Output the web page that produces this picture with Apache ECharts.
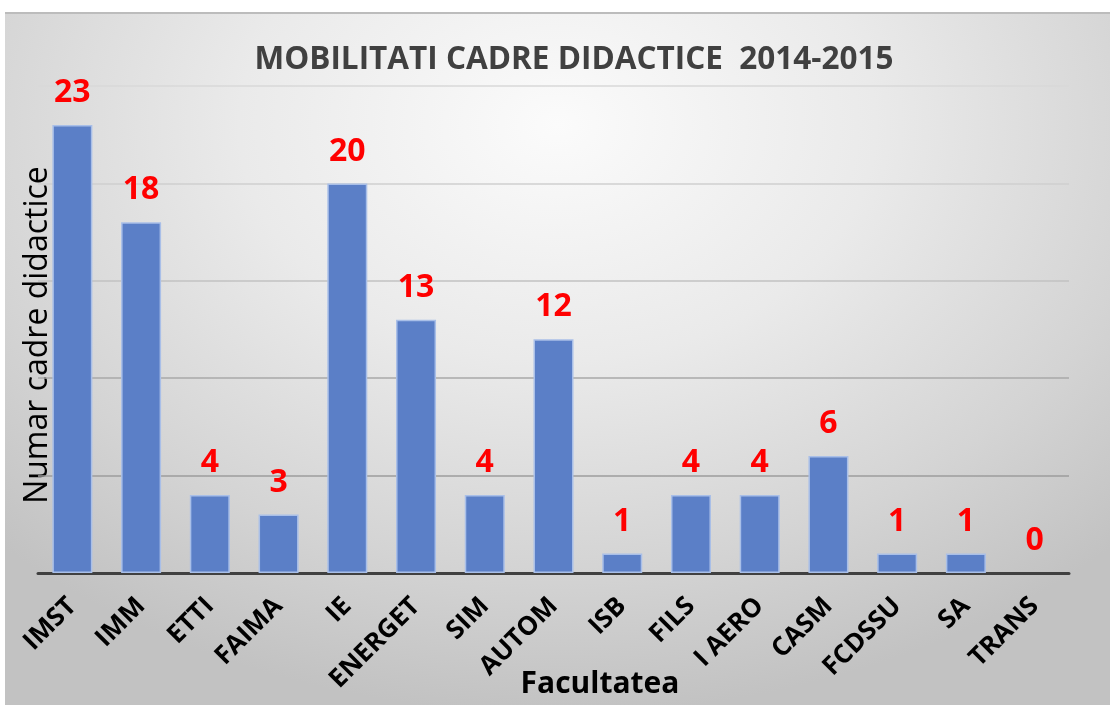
<!DOCTYPE html>
<html>
<head>
<meta charset="utf-8">
<script src="https://cdn.jsdelivr.net/npm/echarts@6/dist/echarts.min.js"></script>
<style>
  html, body { margin: 0; padding: 0; background: #ffffff; }
  #frame {
    position: absolute; left: 5px; top: 12px; width: 1105px; height: 693px;
    border-top: 2px solid #bcbcbc;
    background: radial-gradient(ellipse 72% 85% at 50% 16%, #fbfbfb 0%, #eaeaea 40%, #d4d4d4 75%, #c2c2c2 100%);
  }
  #chart { position: absolute; left: 0; top: 0; width: 1105px; height: 693px; }
</style>
</head>
<body>
<div id="frame"><div id="chart"></div></div>
<script>
// Faculties and number of teaching-staff mobilities, academic year 2014-2015
const faculties = ['IMST', 'IMM', 'ETTI', 'FAIMA', 'IE', 'ENERGET', 'SIM', 'AUTOM', 'ISB', 'FILS', 'I AERO', 'CASM', 'FCDSSU', 'SA', 'TRANS'];
const mobilities = [23, 18, 4, 3, 20, 13, 4, 12, 1, 4, 4, 6, 1, 1, 0];
const yTicks = [0, 5, 10, 15, 20, 25];

const titleText = 'MOBILITATI CADRE DIDACTICE  2014-2015';
const xAxisTitle = 'Facultatea';
const yAxisTitle = 'Numar cadre didactice';

const font = "'Open Sans', 'DejaVu Sans', sans-serif";
const chart = echarts.init(document.getElementById('chart'), null, { renderer: 'canvas' });

// zero-height bars get no outline so no sliver shows on the axis
const barData = mobilities.map(v => (v === 0 ? { value: v, itemStyle: { borderWidth: 0 } } : v));

chart.setOption({
  backgroundColor: 'transparent',
  animation: false,
  title: {
    text: titleText,
    left: 564,
    textAlign: 'center',
    top: 25,
    textStyle: { fontFamily: font, fontSize: 31.5, fontWeight: 'bold', color: '#404040' }
  },
  grid: { left: 33, right: 41, top: 72, bottom: 134 },
  xAxis: {
    type: 'category',
    data: faculties,
    axisLine: { show: true, lineStyle: { color: '#404040', width: 3 } },
    axisTick: { show: false },
    axisLabel: {
      interval: 0,
      rotate: 45,
      margin: 29,
      fontFamily: font,
      fontSize: 26,
      fontWeight: 'bold',
      color: '#000000'
    }
  },
  yAxis: {
    type: 'value',
    min: yTicks[0],
    max: yTicks[yTicks.length - 1],
    interval: yTicks[1] - yTicks[0],
    axisLine: { show: false },
    axisTick: { show: false },
    axisLabel: { show: false },
    splitLine: {
      show: true,
      lineStyle: { width: 1.5, color: ['#404040', '#9c9c9c', '#a9a9a9', '#c2c2c2', '#cfcfcf', '#d9d9d9'] }
    }
  },
  series: [{
    type: 'bar',
    data: barData,
    barWidth: 40,
    itemStyle: { color: '#5b7fc7', borderColor: '#a9bfe8', borderWidth: 1.5 },
    label: {
      show: true,
      position: 'top',
      distance: 16,
      fontFamily: font,
      fontSize: 32,
      fontWeight: 'bold',
      color: '#ff0000'
    }
  }],
  graphic: [
    {
      type: 'text',
      x: 33, y: 321,
      rotation: Math.PI / 2,
      style: {
        text: yAxisTitle, fontFamily: font, fontSize: 32, fill: '#000000',
        textAlign: 'center', textVerticalAlign: 'middle'
      }
    },
    {
      type: 'text',
      x: 595, y: 670,
      style: {
        text: xAxisTitle, fontFamily: font, fontSize: 30, fontWeight: 'bold', fill: '#000000',
        textAlign: 'center', textVerticalAlign: 'middle'
      }
    }
  ]
});
</script>
</body>
</html>
